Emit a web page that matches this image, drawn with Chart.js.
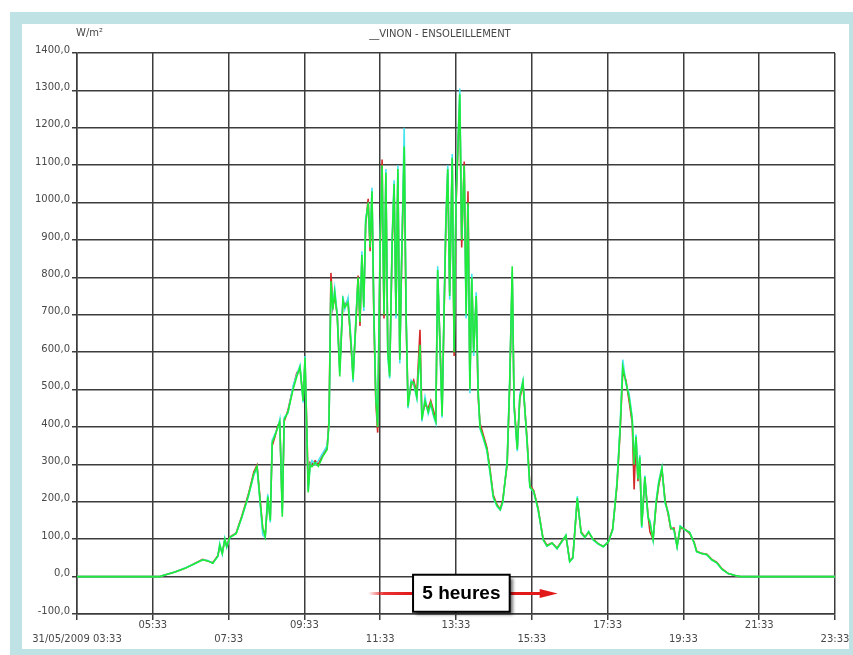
<!DOCTYPE html>
<html>
<head>
<meta charset="utf-8">
<script src="https://cdn.jsdelivr.net/npm/chart.js@4.4.0/dist/chart.umd.min.js"></script>
<style>
  html, body { margin: 0; padding: 0; background: #fff; }
  .frame {
    position: absolute; left: 10px; top: 12px; width: 843px; height: 643px;
    box-sizing: border-box; border-style: solid; border-color: #bfe3e5;
    border-width: 12px 4px 6px 12px;
  }
  #canvas { position: absolute; left: 0; top: 0; }
</style>
</head>
<body>
<div class="frame"></div>
<canvas id="canvas" width="853" height="655"></canvas>
<script>
// clock times of the readings (31/05/2009)
const times = [
  '03:33','05:44','05:52','06:08','06:24','06:40','06:52','07:00','07:08','07:16',
  '07:19','07:23','07:27','07:30','07:35','07:45','07:54','08:04','08:13','08:18',
  '08:23','08:27','08:31','08:35','08:39','08:42','08:46','08:51','08:54','08:58',
  '09:01','09:07','09:15','09:21','09:26','09:31','09:34','09:37','09:39','09:42',
  '09:45','09:50','09:55','10:02','10:09','10:12','10:15','10:18','10:21','10:25',
  '10:29','10:34','10:37','10:42','10:47','10:50','10:55','10:58','11:01','11:04',
  '11:07','11:10','11:14','11:17','11:20','11:23','11:26','11:29','11:33','11:36',
  '11:39','11:42','11:45','11:48','11:52','11:55','11:58','12:01','12:04','12:07',
  '12:11','12:14','12:17','12:22','12:26','12:31','12:36','12:39','12:44','12:49',
  '12:53','12:58','13:01','13:04','13:08','13:11','13:14','13:17','13:20','13:23',
  '13:27','13:30','13:33','13:36','13:39','13:42','13:46','13:49','13:52','13:55',
  '13:58','14:01','14:05','14:08','14:11','14:16','14:22','14:27','14:32','14:38',
  '14:43','14:47','14:54','14:58','15:02','15:05','15:10','15:14','15:19','15:25',
  '15:30','15:36','15:43','15:51','15:57','16:05','16:13','16:21','16:27','16:33',
  '16:38','16:45','16:51','16:57','17:03','17:10','17:18','17:26','17:34','17:41',
  '17:48','17:53','17:57','18:02','18:07','18:12','18:15','18:18','18:21','18:24',
  '18:27','18:32','18:37','18:40','18:45','18:50','18:54','18:59','19:04','19:09',
  '19:13','19:18','19:23','19:28','19:36','19:43','19:50','19:54','20:02','20:10',
  '20:18','20:26','20:34','20:44','20:55','21:03','23:33'
];

// W/m² per sensor
const greenValues = [
  0,0,4,12,22,35,45,42,36,55,
  85,62,100,80,105,115,160,215,275,295,
  200,130,107,214,150,358,375,400,415,160,
  420,440,500,535,560,470,585,374,225,300,
  294,305,295,321,340,412,790,714,760,695,
  535,740,720,733,620,527,700,800,680,860,
  720,950,1000,880,1030,700,480,400,900,1100,
  700,1080,600,535,900,1050,700,1090,580,850,
  1150,700,455,520,519,480,620,420,470,440,
  465,430,415,820,600,430,700,950,1090,750,
  1120,600,1000,1150,1290,900,1100,700,1000,500,
  800,600,750,500,400,374,340,280,214,190,
  179,200,305,520,830,455,340,480,521,374,
  240,228,180,99,82,90,75,95,110,40,
  50,210,118,105,120,99,88,80,92,126,
  250,400,560,520,480,420,300,374,260,320,
  134,267,160,144,99,200,250,290,200,170,
  130,126,80,134,125,118,90,67,62,59,
  45,37,20,8,3,0,0
];
const redValues = [
  0,0,4,12,22,36,46,42,37,56,
  80,64,98,82,106,117,162,218,280,298,
  205,128,110,205,160,350,372,405,410,180,
  415,445,505,545,555,480,575,390,240,305,
  300,310,300,325,345,420,812,720,750,700,
  560,735,725,740,610,540,690,805,670,850,
  730,940,1010,870,1020,690,470,385,880,1115,
  690,1070,610,545,890,1040,710,1080,590,840,
  1140,690,470,510,525,490,660,430,460,450,
  470,440,420,800,610,440,690,940,1080,760,
  1110,590,990,1140,1270,880,1110,720,1030,520,
  790,610,740,481,410,380,345,285,218,192,
  180,205,300,510,800,460,345,475,515,380,
  245,230,182,100,84,90,76,96,108,42,
  52,205,120,106,118,100,88,81,92,128,
  245,395,550,525,470,410,233,370,255,310,
  140,260,165,120,100,195,245,285,205,165,
  128,130,82,130,126,115,92,68,62,60,
  46,38,21,8,3,0,0
];
const cyanValues = [
  0,0,4,12,23,35,45,43,36,54,
  88,60,102,78,104,116,158,212,272,290,
  195,112,104,220,145,365,380,398,420,170,
  425,438,510,540,565,465,590,360,230,295,
  310,300,310,330,350,405,780,725,770,700,
  545,750,715,745,630,520,710,790,690,870,
  710,960,990,890,1040,710,490,410,910,1090,
  710,1090,590,530,910,1060,690,1100,570,860,
  1200,710,450,525,515,475,610,415,480,435,
  460,425,410,830,590,425,710,960,1100,740,
  1130,610,1010,1160,1305,910,1090,690,990,490,
  810,590,760,495,395,370,335,275,210,188,
  178,198,310,525,815,450,335,485,525,370,
  238,226,178,98,81,90,74,94,111,40,
  49,215,116,104,121,98,87,80,93,124,
  255,410,580,515,490,425,310,380,265,325,
  130,270,155,150,98,205,255,292,195,172,
  132,124,79,136,124,119,89,66,62,58,
  44,36,19,8,3,0,0
];

const tickLabels = ['31/05/2009 03:33','05:33','07:33','09:33','11:33','13:33',
  '15:33','17:33','19:33','21:33','23:33'];

const START = 3 * 60 + 33;
function toMinutes(t) {
  const p = t.split(':').map(Number);
  return p[0] * 60 + p[1] - START;
}
function points(values) {
  return times.map((t, i) => ({ x: toMinutes(t), y: values[i] }));
}

const FONT = "'DejaVu Sans', Verdana, sans-serif";
const TEXT = '#484848';
const GRID = '#3c3c3c';

// title, unit and the "5 heures" note
const decorations = {
  id: 'decorations',
  afterDraw(chart) {
    const ctx = chart.ctx;
    const x = chart.scales.x, y = chart.scales.y;
    ctx.save();
    ctx.fillStyle = TEXT;
    ctx.font = '10px ' + FONT;
    ctx.textBaseline = 'middle';
    ctx.textAlign = 'center';
    ctx.fillText('__VINON - ENSOLEILLEMENT', 440, 34);
    ctx.textAlign = 'left';
    ctx.fillText('W/m²', 76, 33);

    const bl = x.getPixelForValue(toMinutes('12:25'));
    const br = x.getPixelForValue(toMinutes('14:58'));
    const bt = y.getPixelForValue(5);
    const bb = y.getPixelForValue(-94);
    const ay = y.getPixelForValue(-45);

    // left arrow, fading out
    const start = x.getPixelForValue(toMinutes('11:14'));
    const g = ctx.createLinearGradient(start, 0, bl, 0);
    g.addColorStop(0, 'rgba(230,30,30,0)');
    g.addColorStop(0.35, 'rgba(230,30,30,0.9)');
    g.addColorStop(1, 'rgb(225,25,25)');
    ctx.strokeStyle = g;
    ctx.lineWidth = 3;
    ctx.beginPath();
    ctx.moveTo(start, ay);
    ctx.lineTo(bl, ay);
    ctx.stroke();

    // right arrow
    const tip = x.getPixelForValue(toMinutes('16:14'));
    ctx.strokeStyle = 'rgb(225,25,25)';
    ctx.fillStyle = 'rgb(225,25,25)';
    ctx.beginPath();
    ctx.moveTo(br, ay);
    ctx.lineTo(tip - 14, ay);
    ctx.stroke();
    ctx.beginPath();
    ctx.moveTo(tip - 18, ay - 4.5);
    ctx.lineTo(tip, ay);
    ctx.lineTo(tip - 18, ay + 4.5);
    ctx.closePath();
    ctx.fill();

    // box with shadow
    ctx.shadowColor = 'rgba(0,0,0,0.55)';
    ctx.shadowBlur = 3;
    ctx.shadowOffsetX = 3;
    ctx.shadowOffsetY = 3;
    ctx.fillStyle = '#fff';
    ctx.fillRect(bl, bt, br - bl, bb - bt);
    ctx.shadowColor = 'transparent';
    ctx.strokeStyle = '#000';
    ctx.lineWidth = 2;
    ctx.strokeRect(bl, bt, br - bl, bb - bt);
    ctx.fillStyle = '#000';
    ctx.font = "bold 19px 'Liberation Sans', Arial, sans-serif";
    ctx.textAlign = 'center';
    ctx.fillText('5 heures', (bl + br) / 2, (bt + bb) / 2 + 1);
    ctx.restore();
  }
};

function line(values, color) {
  return {
    data: points(values),
    borderColor: color,
    borderWidth: 1.6,
    pointRadius: 0,
    tension: 0,
    fill: false
  };
}

new Chart(document.getElementById('canvas').getContext('2d'), {
  type: 'line',
  data: {
    datasets: [
      line(greenValues, '#1eec38'),
      line(cyanValues, '#45e6f0'),
      line(redValues, '#d42a2a')
    ]
  },
  options: {
    responsive: false,
    animation: false,
    layout: { padding: { top: 53, right: 18, left: 0, bottom: 0 } },
    plugins: { legend: { display: false }, tooltip: { enabled: false } },
    scales: {
      x: {
        type: 'linear',
        min: 0,
        max: 1200,
        afterFit: (s) => { s.height = 41; },
        grid: { color: GRID, lineWidth: 1.5, tickLength: 6 },
        border: { color: GRID, width: 1.5 },
        ticks: {
          stepSize: 120,
          autoSkip: false,
          maxRotation: 0,
          padding: -2,
          color: TEXT,
          font: { family: FONT, size: 10, lineHeight: 1.45 },
          callback: (v, i) => (i % 2 ? [tickLabels[i], ''] : ['', tickLabels[i]])
        }
      },
      y: {
        min: -100,
        max: 1400,
        afterFit: (s) => { s.width = 77; },
        grid: { color: GRID, lineWidth: 1.5, tickLength: 5 },
        border: { color: GRID, width: 1.5 },
        ticks: {
          stepSize: 100,
          padding: 2,
          labelOffset: -3,
          color: TEXT,
          font: { family: FONT, size: 10 },
          callback: (v) => v.toFixed(1).replace('.', ',')
        }
      }
    }
  },
  plugins: [decorations]
});
</script>
</body>
</html>
